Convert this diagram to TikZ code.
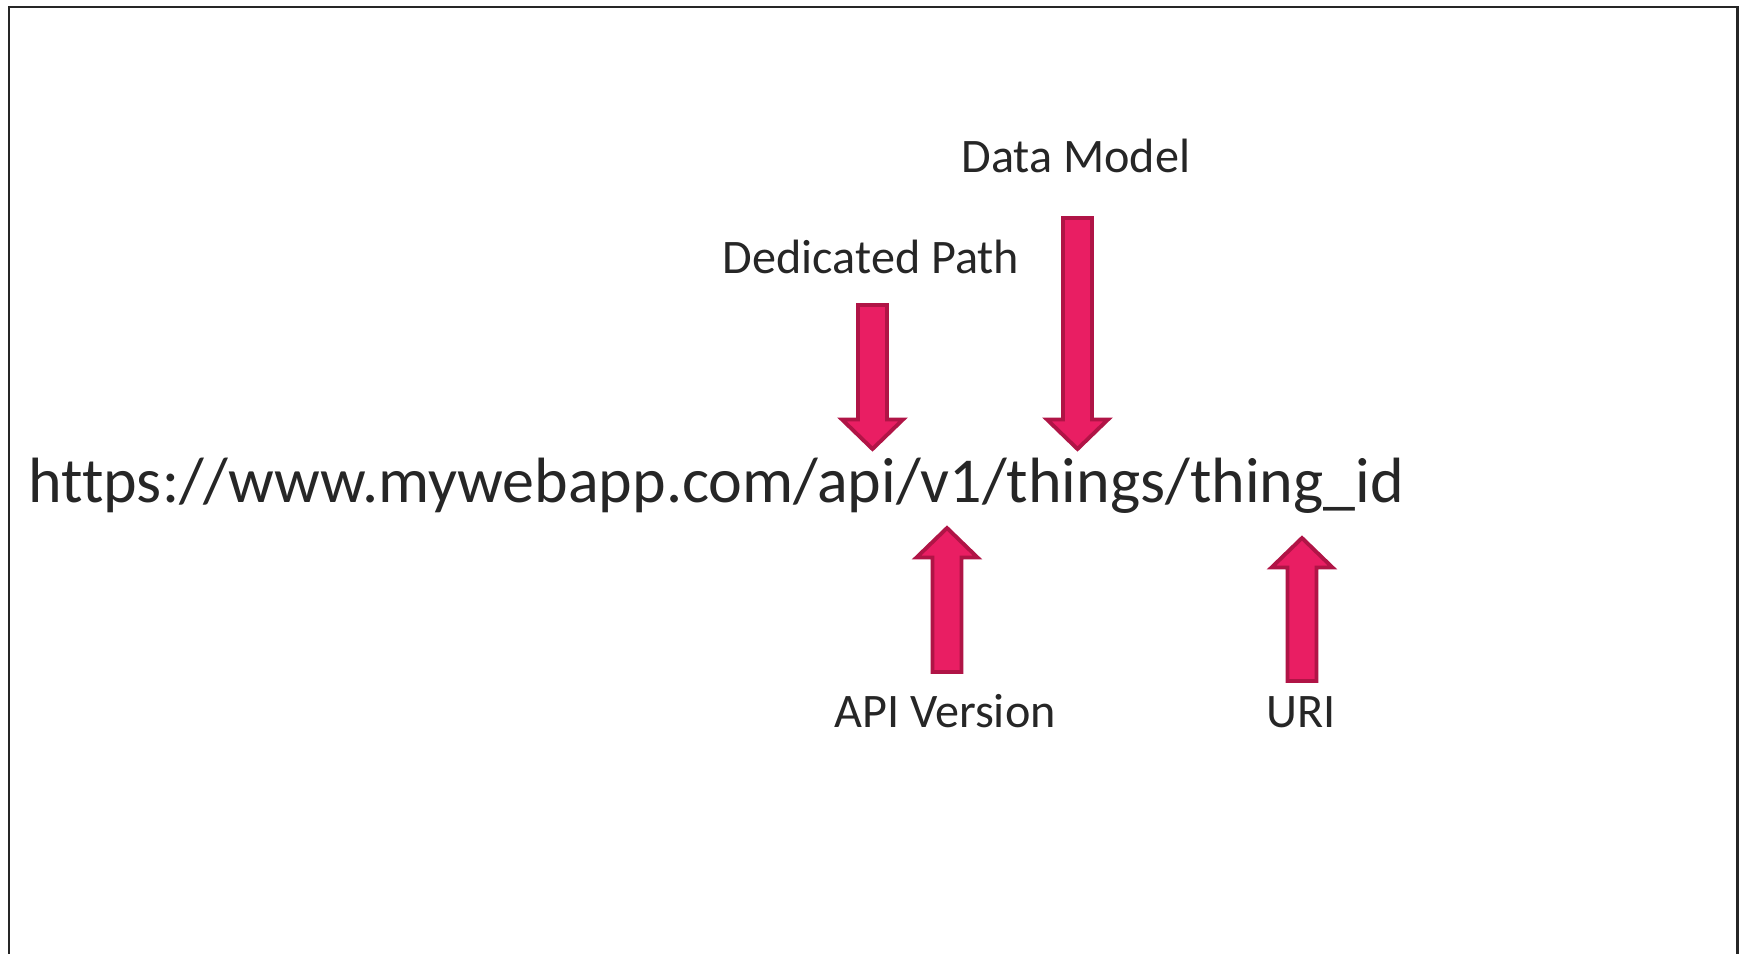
\documentclass[tikz,border=0pt]{standalone}
\usepackage{fontspec}
\setmainfont[Ligatures=NoCommon]{Carlito}
\definecolor{arrowpink}{HTML}{E91E63}
\definecolor{arrowedge}{HTML}{B01446}
\definecolor{inkgray}{HTML}{262626}
\begin{document}
\begin{tikzpicture}[x=0.01cm,y=-0.01cm]
    \tikzset{
      pics/blockarrow/.style args={#1}{code={
        \draw[arrowedge,fill=arrowpink,line width=1.1pt,line join=miter]
          (0,-3) -- (-30.5,-32.5) -- (-14.5,-32.5) -- (-14.5,-#1+2)
          -- (14.5,-#1+2) -- (14.5,-32.5) -- (30.5,-32.5) -- cycle;
      },
    }
    }
    \tikzset{
      lbl/.style={inner sep=0pt,anchor=base,text=inkgray,font=\fontsize{13.7}{16}\selectfont},
      url/.style={inner sep=0pt,anchor=base west,text=inkgray,font=\fontsize{18.2}{22}\selectfont}
    }
        \useasboundingbox (0,0) rectangle (1741,954);
        %FRAME (open at the bottom)
        \draw[inkgray,line width=0.7pt] (9,954) -- (9,7) -- (1737.5,7) -- (1737.5,954);

        %URL
        \node[url] (link) at (28,502) {https://www.mywebapp.com/api/v1/things/thing\_id};

        %ARROWS
        \draw (872.5,452) pic {blockarrow={149}};
        \draw (1077.5,452) pic {blockarrow={236}};
        \draw (947,525) pic[rotate=180] {blockarrow={149}};
        \draw (1302,535) pic[rotate=180] {blockarrow={148}};

        %LABELS
        \node[lbl] (model) at (1076,172) {Data Model};
        \node[lbl] (path) at (871,273) {Dedicated Path};
        \node[lbl] (version) at (945,727) {API Version};
        \node[lbl] (uri) at (1301,727) {URI};
    \end{tikzpicture}
\end{document}
